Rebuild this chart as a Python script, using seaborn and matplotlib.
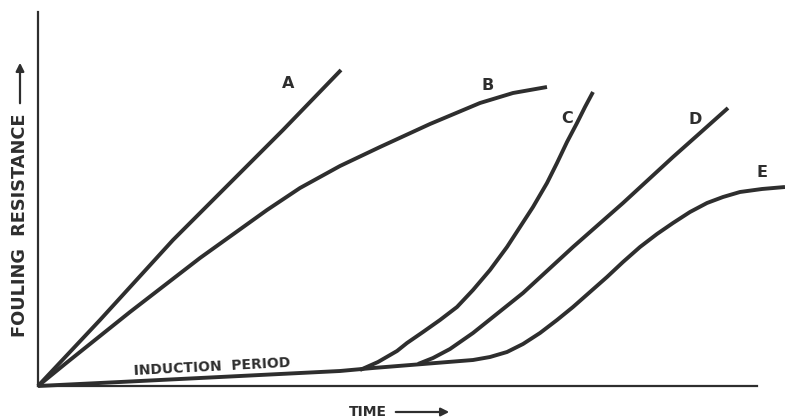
import seaborn as sns
import matplotlib.pyplot as plt
import pandas as pd

sns.set_style("white")
plt.rcParams['font.family'] = ['DejaVu Sans']

# curves (time, fouling resistance) in arbitrary units
a_time = [0, 62, 135, 245, 303]
a_res = [0, 66, 146, 256, 316]

b_time = [0, 27, 92, 162, 229, 262, 302, 342, 392, 442, 475, 492, 509]
b_res = [0, 22, 74, 128, 176, 198, 220, 239, 262, 283, 293, 296, 299]

c_time = [322, 340, 359, 369, 385, 402, 419, 435, 452, 469, 482, 495, 509, 519, 529, 539, 547, 555]
c_res = [16, 24, 35, 43, 54, 66, 79, 96, 116, 139, 159, 179, 203, 223, 244, 263, 279, 294]

d_time = [380, 395, 412, 435, 460, 485, 510, 535, 560, 585, 610, 635, 662, 690]
d_res = [22, 28, 37, 53, 73, 93, 116, 139, 161, 183, 206, 229, 253, 278]

# E includes the induction period baseline from the origin
e_time = [0, 82, 162, 242, 302, 335, 385, 435, 452, 469, 485, 502, 519, 535, 552, 569,
          585, 602, 619, 635, 652, 669, 685, 702, 724, 747]
e_res = [0, 4, 8, 12, 15, 18, 22, 26, 29, 34, 42, 53, 66, 79, 94, 109,
         124, 139, 152, 163, 174, 183, 189, 194, 197, 199]

curve_names = ["A", "B", "C", "D", "E"]
label_pos = [(250, 303), (450, 301), (529, 268), (657, 267), (724, 214)]

ink = "#2e2e2e"

fig = plt.figure(figsize=(7.85, 4.18), dpi=100)
ax = fig.add_axes([38 / 785, 32 / 418, 747 / 785, 374 / 418])

curves = [(a_time, a_res), (b_time, b_res), (c_time, c_res), (d_time, d_res), (e_time, e_res)]
for name, (t, r) in zip(curve_names, curves):
    df = pd.DataFrame({"time": t, "res": r})
    sns.lineplot(data=df, x="time", y="res", ax=ax, color=ink, linewidth=2.8,
                 sort=False, estimator=None, clip_on=False,
                 solid_capstyle="butt", solid_joinstyle="round")

for name, (lx, ly) in zip(curve_names, label_pos):
    ax.text(lx, ly, name, ha="center", va="center", fontsize=11.5, fontweight="bold", color=ink)

ax.text(174, 19, "INDUCTION  PERIOD", ha="center", va="center", rotation=3,
        fontsize=10, fontweight="bold", color=ink)

ax.set_xlim(0, 747)
ax.set_ylim(0, 374)
ax.set_xticks([])
ax.set_yticks([])
ax.set_xlabel("")
ax.set_ylabel("")
for side in ["top", "right"]:
    ax.spines[side].set_visible(False)
ax.spines["bottom"].set_bounds(0, 719)
for side in ["bottom", "left"]:
    ax.spines[side].set_color(ink)
    ax.spines[side].set_linewidth(1.6)

# axis captions with arrows
ax.text(330, -26, "TIME", ha="center", va="center", fontsize=10, fontweight="bold",
        color=ink, clip_on=False)
ax.annotate("", xy=(414, -26), xytext=(355, -26), annotation_clip=False,
            arrowprops=dict(arrowstyle="-|>", color=ink, lw=1.6, mutation_scale=12))
ax.text(-18, 161, "FOULING  RESISTANCE", ha="center", va="center", rotation=90,
        fontsize=12.8, fontweight="bold", color=ink, clip_on=False)
ax.annotate("", xy=(-18, 326), xytext=(-18, 280), annotation_clip=False,
            arrowprops=dict(arrowstyle="-|>", color=ink, lw=1.6, mutation_scale=12))

fig.savefig("out.png", dpi=100, facecolor="white")
